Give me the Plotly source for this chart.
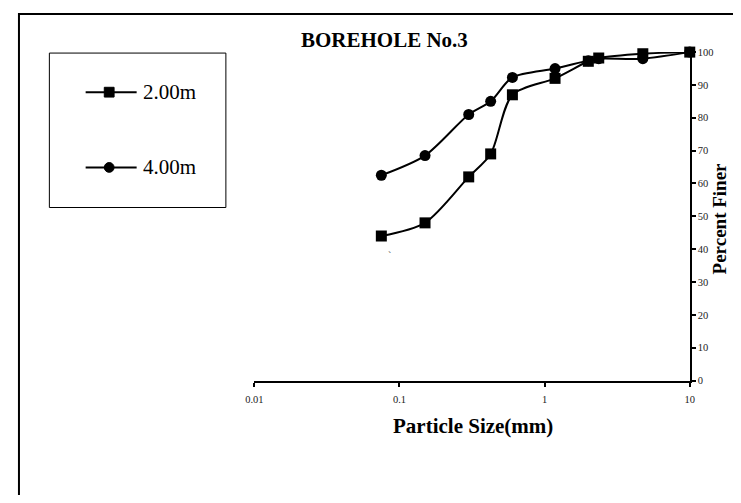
import plotly.graph_objects as go

# ---- data ----
particle_size_mm = [0.075, 0.15, 0.3, 0.425, 0.6, 1.18, 2.0, 2.36, 4.75, 10]
percent_finer_2m = [44, 48, 62, 69, 87, 92, 97.2, 98.2, 99.5, 100]
percent_finer_4m = [62.5, 68.5, 81, 85, 92.3, 95, 97.4, 98, 98, 100]
series_names = ["2.00m", "4.00m"]
x_tick_vals = [0.01, 0.1, 1, 10]
x_tick_text = ["0.01", "0.1", "1", "10"]

OFF = 8  # page body margin
W, H = 741 - 2 * OFF, 503 - 2 * OFF
SERIF = "Liberation Serif, Times New Roman, serif"


def px(x):
    return (x - OFF) / W


def py(y):
    return 1 - (y - OFF) / H


fig = go.Figure()

fig.add_trace(go.Scatter(
    x=particle_size_mm, y=percent_finer_2m, name=series_names[0],
    mode="lines+markers", line=dict(color="black", width=2, shape="spline", smoothing=0.8),
    marker=dict(symbol="square", size=11, color="black"), cliponaxis=False,
))
fig.add_trace(go.Scatter(
    x=particle_size_mm, y=percent_finer_4m, name=series_names[1],
    mode="lines+markers", line=dict(color="black", width=2, shape="spline", smoothing=0.8),
    marker=dict(symbol="circle", size=11, color="black"), cliponaxis=False,
))

fig.update_layout(
    width=W, height=H,
    margin=dict(l=0, r=0, t=0, b=0),
    paper_bgcolor="white", plot_bgcolor="white",
    showlegend=False,
    font=dict(family=SERIF, color="black"),
    xaxis=dict(
        type="log", range=[-2, 1], domain=[px(250), px(694)],
        tickvals=x_tick_vals, ticktext=x_tick_text,
        ticks="outside", ticklen=4, tickwidth=1.5, tickcolor="black",
        showline=True, linewidth=2, linecolor="black",
        showgrid=False, zeroline=False,
        tickfont=dict(family=SERIF, size=10.5, color="#222"),
        ticklabelstandoff=4,
    ),
    yaxis=dict(
        range=[0, 100], dtick=10, domain=[py(384), py(48)],
        side="right", anchor="x",
        ticks="outside", ticklen=4, tickwidth=1.5, tickcolor="black",
        showline=True, linewidth=2, linecolor="black",
        showgrid=False, zeroline=False,
        tickfont=dict(family=SERIF, size=10.5, color="#222"),
    ),
)

shapes = []
# outer frame (right and bottom edges fall outside the page)
shapes.append(dict(type="rect", xref="paper", yref="paper",
                   x0=px(10), x1=px(780), y0=py(540), y1=py(9),
                   line=dict(color="black", width=2)))
# legend box
shapes.append(dict(type="rect", xref="paper", yref="paper",
                   x0=px(41), x1=px(221), y0=py(207), y1=py(49),
                   line=dict(color="black", width=1)))
annotations = []
legend_rows = [(89, "square"), (166, "circle")]
for (ry, sym), name in zip(legend_rows, series_names):
    shapes.append(dict(type="line", xref="paper", yref="paper",
                       x0=px(78), x1=px(130), y0=py(ry), y1=py(ry),
                       line=dict(color="black", width=2)))
    s = 5
    shapes.append(dict(type="rect" if sym == "square" else "circle",
                       xref="paper", yref="paper",
                       x0=px(102 - s), x1=px(102 + s), y0=py(ry + s), y1=py(ry - s),
                       line=dict(color="black", width=1), fillcolor="black"))
    annotations.append(dict(text=name, xref="paper", yref="paper",
                            x=px(134), y=py(ry), xanchor="left", yanchor="middle",
                            showarrow=False, font=dict(family=SERIF, size=21, color="black")))

annotations += [
    dict(text="<b>BOREHOLE No.3</b>", xref="paper", yref="paper",
         x=px(383), y=py(36), xanchor="center", yanchor="middle", showarrow=False,
         font=dict(family=SERIF, size=21, color="black")),
    dict(text="<b>Particle Size(mm)</b>", xref="paper", yref="paper",
         x=px(473), y=py(431), xanchor="center", yanchor="middle", showarrow=False,
         font=dict(family=SERIF, size=21, color="black")),
    dict(text="<b>Percent Finer</b>", xref="paper", yref="paper",
         x=px(724), y=py(218), xanchor="center", yanchor="middle", showarrow=False,
         textangle=-90, font=dict(family=SERIF, size=19, color="black")),
    dict(text="`", xref="x", yref="y", x=-1.07, y=38, showarrow=False,
         font=dict(family=SERIF, size=10, color="#444")),
]

fig.update_layout(shapes=shapes, annotations=annotations)
fig.write_html("out.html")
